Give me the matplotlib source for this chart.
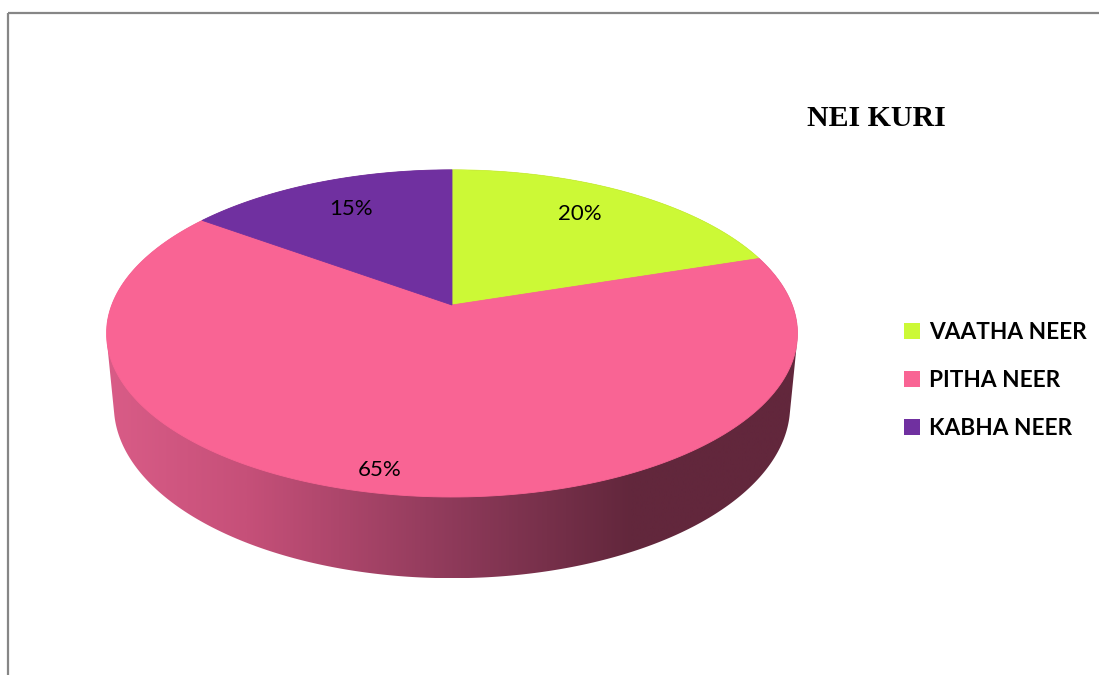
import numpy as np
import matplotlib
matplotlib.use("Agg")
import matplotlib.pyplot as plt
from matplotlib.patches import Polygon, Rectangle, Patch
from matplotlib.colors import LinearSegmentedColormap

# donnees du camembert
labels = ["VAATHA NEER", "PITHA NEER", "KABHA NEER"]
values = [20, 65, 15]
colors = ["#CCF936", "#F96494", "#7030A0"]
title = "NEI KURI"

# couleurs du flanc (degrade de gauche a droite)
side_stops = [(0.0, "#D95C87"), (0.2, "#C65079"), (0.5, "#8E3A5A"), (0.76, "#62273C"), (1.0, "#62273C")]

# parametres de la vue 3D (perspective)
cx, cy = 452.0, 305.0
Kx, Ky = 1742.0, 1777.0
L = 5.12
elev = np.radians(27.2)
ce, se = np.cos(elev), np.sin(elev)
h = 0.236


def proj(t, z=0.0, r=1.0):
    # t : angle en sens horaire depuis le haut
    X = r * np.sin(t)
    Y = r * np.cos(t)
    depth = L + Y * ce - z * se
    xs = cx + Kx * X / depth
    ys = cy - Ky * (Y * se + z * ce) / depth
    return xs, ys


def hull(pts):
    pts = sorted(map(tuple, pts))
    def cross(o, a, b):
        return (a[0]-o[0])*(b[1]-o[1]) - (a[1]-o[1])*(b[0]-o[0])
    lower, upper = [], []
    for p in pts:
        while len(lower) >= 2 and cross(lower[-2], lower[-1], p) <= 0:
            lower.pop()
        lower.append(p)
    for p in reversed(pts):
        while len(upper) >= 2 and cross(upper[-2], upper[-1], p) <= 0:
            upper.pop()
        upper.append(p)
    return np.array(lower[:-1] + upper[:-1])


fig = plt.figure(figsize=(10.99, 6.75), dpi=100)
ax = fig.add_axes([0, 0, 1, 1])
ax.set_xlim(0, 1099)
ax.set_ylim(675, 0)
ax.axis("off")

# cadre gris
ax.add_patch(Rectangle((8, 13), 1200, 800, fill=False, ec="#868686", lw=1.6))

# flanc du camembert : enveloppe des deux ellipses, remplie d'un degrade
tt = np.linspace(0, 2*np.pi, 721)
top = np.column_stack(proj(tt))
bot = np.column_stack(proj(tt, z=-h))
side = hull(np.vstack([top, bot]))
side_patch = Polygon(side, closed=True, fc="none", ec="none")
ax.add_patch(side_patch)
cmap = LinearSegmentedColormap.from_list("flanc", side_stops)
x0, x1 = side[:, 0].min(), side[:, 0].max()
y0, y1 = side[:, 1].min(), side[:, 1].max()
grad = np.linspace(0, 1, 512).reshape(1, -1)
im = ax.imshow(grad, cmap=cmap, extent=(x0, x1, y1, y0), aspect="auto",
               interpolation="bilinear", zorder=1)
im.set_clip_path(side_patch)
ax.set_xlim(0, 1099)
ax.set_ylim(675, 0)

# face superieure : une part par valeur
total = float(sum(values))
start = 0.0
mids = []
for v, col in zip(values, colors):
    a0 = start
    a1 = start + 2*np.pi * v / total
    ts = np.linspace(a0, a1, 200)
    xs, ys = proj(ts)
    pts = np.vstack([[cx, cy], np.column_stack([xs, ys])])
    ax.add_patch(Polygon(pts, closed=True, fc=col, ec=col, lw=0.6, zorder=2))
    mids.append((a0 + a1) / 2)
    start = a1

# etiquettes de pourcentage
label_r = [0.70, 0.89, 0.71]
label_off = [(0, -9), (-16, 0), (-2, -6)]
for v, m, r, (dx, dy) in zip(values, mids, label_r, label_off):
    lx, ly = proj(m, r=r)
    ax.text(lx + dx, ly + dy, f"{v}%", ha="center", va="center", fontsize=16,
            family="Lato", color="black", zorder=3)

# titre
ax.text(876, 118, title, ha="center", va="center", fontsize=21.5,
        family="Liberation Serif", fontweight="bold", color="black")

# legende
handles = [Patch(fc=c, ec="none") for c in colors]
leg = ax.legend(handles, labels, loc="upper left", bbox_to_anchor=(904/1099, 1 - 322/675),
                frameon=False, prop={"family": "Lato", "weight": "bold", "size": 16.3},
                handlelength=0.7, handleheight=0.7, handletextpad=0.4,
                labelspacing=1.2, borderaxespad=0, borderpad=0)

fig.savefig("out.png", dpi=100)
